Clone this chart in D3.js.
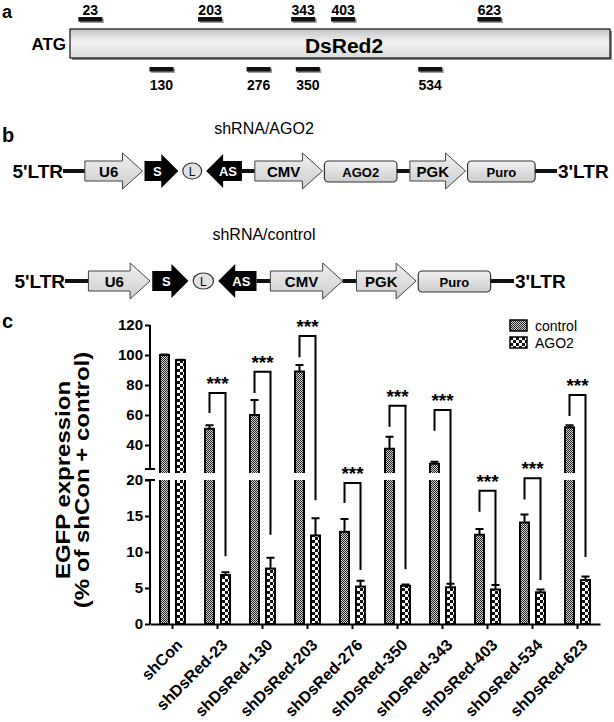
<!DOCTYPE html>
<html>
<head>
<meta charset="utf-8">
<script src="https://d3js.org/d3.v7.min.js"></script>
<style>
  body { margin: 0; background: #fff; }
  svg { display: block; font-family: "Liberation Sans", Arial, sans-serif; }
</style>
</head>
<body>
<svg></svg>
<script>
// ---- panel a: shRNA target sites on DsRed2 (nt position)
const sitesTop = [23, 203, 343, 403, 623];
const sitesBottom = [130, 276, 350, 534];

// ---- panel b: vector constructs ("==" long linker, "-" short linker)
const constructAGO2 = ["5'LTR", "==", "U6", "S", "L", "AS", "-", "CMV", "AGO2", "-", "PGK", "Puro", "==", "3'LTR"];
const constructControl = ["5'LTR", "==", "U6", "S", "L", "AS", "-", "CMV", "-", "PGK", "Puro", "==", "3'LTR"];

// ---- panel c: EGFP expression (% of shCon + control)
const groups = ["shCon", "shDsRed-23", "shDsRed-130", "shDsRed-203", "shDsRed-276",
  "shDsRed-350", "shDsRed-343", "shDsRed-403", "shDsRed-534", "shDsRed-623"];
const series = ["control", "AGO2"];
const controlMean = [100, 50.8, 60, 89, 12.8, 37.5, 27.5, 12.4, 14.1, 51.8];
const controlErr = [0.3, 2.4, 10, 4.3, 1.8, 8, 1.4, 0.8, 1.1, 1.3];
const ago2Mean = [96.6, 6.8, 7.7, 12.3, 5.2, 5.3, 5.1, 4.8, 4.4, 6.1];
const ago2Err = [0.3, 0.4, 1.5, 2.4, 0.8, 0.2, 0.5, 0.6, 0.4, 0.5];
// significance brackets (left end, top, right end), in y units
const bracketLeft = [null, 61.3, 74.7, 98.5, 16.8, 52.2, 49.5, 15.6, 17.3, 59.3];
const bracketTop = [null, 74.7, 88.9, 112.7, 19.6, 66.2, 63.3, 18.5, 20.6, 73.3];
const bracketRight = [null, 9.4, 12.4, 17.2, 7.5, 7.6, 5.7, 5.4, 6.1, 9.3];
const yTicksLow = [0, 5, 10, 15, 20];
const yTicksHigh = [40, 60, 80, 100, 120];

const W = 614, H = 722;
const svg = d3.select("svg").attr("width", W).attr("height", H);
const defs = svg.append("defs");

// fill patterns
const pc = defs.append("pattern").attr("id", "patControl")
  .attr("patternUnits", "userSpaceOnUse").attr("width", 2).attr("height", 2);
pc.append("rect").attr("width", 2).attr("height", 2).attr("fill", "#d4d4d4");
pc.append("rect").attr("width", 1).attr("height", 1).attr("fill", "#222");
pc.append("rect").attr("x", 1).attr("y", 1).attr("width", 1).attr("height", 1).attr("fill", "#222");

const pa = defs.append("pattern").attr("id", "patAGO2")
  .attr("patternUnits", "userSpaceOnUse").attr("width", 6).attr("height", 6);
pa.append("rect").attr("width", 6).attr("height", 6).attr("fill", "#fff");
pa.append("rect").attr("width", 3).attr("height", 3).attr("fill", "#111");
pa.append("rect").attr("x", 3).attr("y", 3).attr("width", 3).attr("height", 3).attr("fill", "#111");

const gb = defs.append("linearGradient").attr("id", "gradBox")
  .attr("x1", 0).attr("y1", 0).attr("x2", 0).attr("y2", 1);
gb.append("stop").attr("offset", "0%").attr("stop-color", "#c4c4c4");
gb.append("stop").attr("offset", "45%").attr("stop-color", "#f2f2f2");
gb.append("stop").attr("offset", "100%").attr("stop-color", "#dadada");

const gp = defs.append("linearGradient").attr("id", "gradPart")
  .attr("x1", 0).attr("y1", 0).attr("x2", 0).attr("y2", 1);
gp.append("stop").attr("offset", "0%").attr("stop-color", "#f0f0f0");
gp.append("stop").attr("offset", "100%").attr("stop-color", "#cdcdcd");

// panel letters
[["a", 18, 18], ["b", 142, 20], ["c", 328, 20]].forEach(([t, yy, fs]) => {
  svg.append("text").attr("x", 2).attr("y", yy)
    .attr("font-size", fs).attr("font-weight", "bold").text(t);
});

// ================= panel a =================
const pA = svg.append("g");
const siteX = d3.scaleLinear().domain([0, 678]).range([75, 526]);

pA.append("rect").attr("x", 72).attr("y", 31).attr("width", 540).attr("height", 29).attr("fill", "#8a8a8a");
pA.append("rect").attr("x", 70).attr("y", 29).attr("width", 540).attr("height", 29)
  .attr("fill", "url(#gradBox)").attr("stroke", "#111").attr("stroke-width", 1.2);
pA.append("text").attr("x", 344).attr("y", 53).attr("text-anchor", "middle")
  .attr("font-size", 21).attr("font-weight", "bold").text("DsRed2");
pA.append("text").attr("x", 66).attr("y", 50).attr("text-anchor", "end")
  .attr("font-size", 17).attr("font-weight", "bold").text("ATG");

function drawSites(list, markY, labelY) {
  const g = pA.append("g").selectAll("g").data(list).join("g");
  g.append("rect").attr("x", d => siteX(d) - 10.5).attr("y", markY + 1.5)
    .attr("width", 24).attr("height", 4.5).attr("fill", "#9a9a9a");
  g.append("rect").attr("x", d => siteX(d) - 12).attr("y", markY)
    .attr("width", 24).attr("height", 4.5).attr("fill", "#111");
  g.append("text").attr("x", d => siteX(d)).attr("y", labelY)
    .attr("text-anchor", "middle").attr("font-size", 14).attr("font-weight", "bold")
    .text(d => d);
}
drawSites(sitesTop, 17, 14.5);
drawSites(sitesBottom, 67, 90);

// ================= panel b =================
const partKind = {
  "5'LTR": "ltr", "3'LTR": "ltr", "==": "line", "-": "line",
  "U6": "promoter", "CMV": "promoter", "PGK": "promoter",
  "S": "sense", "AS": "antisense", "L": "loop", "AGO2": "gene", "Puro": "gene"
};
const partWidth = { "==": 22, "-": 13, "U6": 58, "CMV": 68, "PGK": 56, "S": 34, "AS": 36, "L": 20, "AGO2": 73, "Puro": 68 };
const partGap = { line: 0, promoter: 2, sense: 2, antisense: 0, loop: 4, gene: 2 };

function drawConstruct(parts, cy, span, title, titleY) {
  const g = svg.append("g");
  g.append("text").attr("x", 264).attr("y", titleY).attr("text-anchor", "middle")
    .attr("font-size", 16).text(title);

  // lay parts out in natural units, then fit to the row span
  const inner = parts.slice(1, -1);
  let u = 0;
  const laid = inner.map((p, i) => {
    const k = partKind[p];
    const prev = i > 0 ? partKind[inner[i - 1]] : "line";
    if (k !== "line" && prev !== "line") u += Math.max(partGap[k], partGap[prev]);
    const d = { p, k, u0: u, u1: u + partWidth[p] };
    u = d.u1;
    return d;
  });
  const sx = d3.scaleLinear().domain([0, u]).range(span);

  g.append("text").attr("x", span[0]).attr("y", cy + 7).attr("text-anchor", "end")
    .attr("font-size", 19).attr("font-weight", "bold").text(parts[0]);
  g.append("text").attr("x", span[1] + 1).attr("y", cy + 7)
    .attr("font-size", 19).attr("font-weight", "bold").text(parts[parts.length - 1]);

  laid.forEach(d => {
    const x0 = sx(d.u0), x1 = sx(d.u1);
    if (d.k === "line") {
      g.append("rect").attr("x", x0).attr("y", cy - 2).attr("width", x1 - x0).attr("height", 4).attr("fill", "#111");
    } else if (d.k === "promoter") {
      const h = 20;
      g.append("path").attr("d", `M${x0},${cy - 10}H${x1 - h}V${cy - 18}L${x1},${cy}L${x1 - h},${cy + 18}V${cy + 10}H${x0}Z`)
        .attr("fill", "url(#gradPart)").attr("stroke", "#444").attr("stroke-width", 1);
      g.append("text").attr("x", (x0 + x1) / 2 - 5).attr("y", cy + 5.5).attr("text-anchor", "middle")
        .attr("font-size", 15).attr("font-weight", "bold").text(d.p);
    } else if (d.k === "sense") {
      const h = 17;
      g.append("path").attr("d", `M${x0},${cy - 10}H${x1 - h}V${cy - 17}L${x1},${cy}L${x1 - h},${cy + 17}V${cy + 10}H${x0}Z`)
        .attr("fill", "#000");
      g.append("text").attr("x", (x0 + x1) / 2 - 4).attr("y", cy + 5).attr("text-anchor", "middle")
        .attr("fill", "#fff").attr("font-size", 13).attr("font-weight", "bold").text(d.p);
    } else if (d.k === "antisense") {
      const h = 17;
      g.append("path").attr("d", `M${x1},${cy - 10}H${x0 + h}V${cy - 17}L${x0},${cy}L${x0 + h},${cy + 17}V${cy + 10}H${x1}Z`)
        .attr("fill", "#000");
      g.append("text").attr("x", (x0 + x1) / 2 + 4).attr("y", cy + 5).attr("text-anchor", "middle")
        .attr("fill", "#fff").attr("font-size", 13).attr("font-weight", "bold").text(d.p);
    } else if (d.k === "loop") {
      g.append("ellipse").attr("cx", (x0 + x1) / 2).attr("cy", cy).attr("rx", (x1 - x0) / 2 - 0.5).attr("ry", 8)
        .attr("fill", "#e2e2e2").attr("stroke", "#333").attr("stroke-width", 1.2);
      g.append("text").attr("x", (x0 + x1) / 2).attr("y", cy + 4.5).attr("text-anchor", "middle")
        .attr("font-size", 12).text(d.p);
    } else if (d.k === "gene") {
      g.append("rect").attr("x", x0).attr("y", cy - 10).attr("width", x1 - x0).attr("height", 21).attr("rx", 4)
        .attr("fill", "url(#gradPart)").attr("stroke", "#333").attr("stroke-width", 1.2);
      g.append("text").attr("x", (x0 + x1) / 2).attr("y", cy + 5.5).attr("text-anchor", "middle")
        .attr("font-size", 13).attr("font-weight", "bold").text(d.p);
    }
  });
}
drawConstruct(constructAGO2, 171, [63, 557], "shRNA/AGO2", 134);
drawConstruct(constructControl, 281, [65, 514], "shRNA/control", 240);

// ================= panel c =================
const pC = svg.append("g");
const x = d3.scaleBand().domain(groups).range([150, 600]);
const xs = d3.scaleBand().domain(series).range([9, 36]).paddingInner(0.3125);
const y = d3.scaleLinear().domain([0, 20, 24, 120]).range([624, 480, 469, 325]);
const fills = { control: "url(#patControl)", AGO2: "url(#patAGO2)" };

const rows = groups.flatMap((g, i) => [
  { g, s: "control", v: controlMean[i], e: controlErr[i] },
  { g, s: "AGO2", v: ago2Mean[i], e: ago2Err[i] }
]);
const cx = d => x(d.g) + xs(d.s) + xs.bandwidth() / 2;

// error bars (upper half only)
pC.append("g").selectAll("path").data(rows).join("path")
  .attr("d", d => `M${cx(d)},${y(d.v)}V${y(d.v + d.e)}M${cx(d) - 4},${y(d.v + d.e)}H${cx(d) + 4}`)
  .attr("fill", "none").attr("stroke", "#000").attr("stroke-width", 2);

pC.append("g").selectAll("rect").data(rows).join("rect")
  .attr("x", d => x(d.g) + xs(d.s) + 1)
  .attr("width", xs.bandwidth() - 2)
  .attr("y", d => y(d.v))
  .attr("height", d => y(0) - y(d.v))
  .attr("fill", d => fills[d.s])
  .attr("stroke", "#000").attr("stroke-width", 2);

// axis break gap through the bars
pC.append("rect").attr("x", 152).attr("y", y(24) + 4).attr("width", 450).attr("height", y(20) - y(24) - 4)
  .attr("fill", "#fff");

// significance brackets
const br = groups.map((g, i) => ({ g, l: bracketLeft[i], t: bracketTop[i], r: bracketRight[i] }))
  .filter(d => d.t !== null);
const cxS = (g, s) => x(g) + xs(s) + xs.bandwidth() / 2;
pC.append("g").selectAll("path").data(br).join("path")
  .attr("d", d => `M${cxS(d.g, "control")},${y(d.l)}V${y(d.t)}H${cxS(d.g, "AGO2")}V${y(d.r)}`)
  .attr("fill", "none").attr("stroke", "#000").attr("stroke-width", 2);
pC.append("g").selectAll("text").data(br).join("text")
  .attr("x", d => (cxS(d.g, "control") + cxS(d.g, "AGO2")) / 2)
  .attr("y", d => y(d.t) - 3)
  .attr("text-anchor", "middle").attr("font-size", 19).attr("font-weight", "bold")
  .text("***");

// y axis (broken)
function yAxisPart(ticks, lo, hi) {
  const a = pC.append("g").attr("transform", "translate(150,0)")
    .call(d3.axisLeft(y).tickValues(ticks).tickSize(5).tickPadding(2));
  a.select(".domain").remove();
  a.selectAll("line").attr("stroke-width", 2);
  a.selectAll("text").attr("font-size", 15).attr("font-weight", "bold")
    .attr("font-family", "Liberation Sans, Arial, sans-serif").attr("fill", "#000");
  a.append("path").attr("d", `M0,${y(lo)}V${y(hi)}M-5,${y(lo)}H5`)
    .attr("stroke", "#000").attr("stroke-width", 2).attr("fill", "none");
}
yAxisPart(yTicksLow, 20, 0);
yAxisPart(yTicksHigh, 24, 120);

// x axis
const xa = pC.append("g").attr("transform", `translate(0,${y(0)})`)
  .call(d3.axisBottom(x).tickSize(5).tickSizeOuter(0));
xa.select(".domain").attr("stroke-width", 2);
xa.selectAll("line").attr("stroke-width", 2);
xa.selectAll("text")
  .attr("y", null).attr("dy", null)
  .attr("text-anchor", "end")
  .attr("transform", "translate(11,22) rotate(-45)")
  .attr("font-size", 16).attr("font-weight", "bold")
  .attr("font-family", "Liberation Sans, Arial, sans-serif").attr("fill", "#000");

// y title
const yt = pC.append("g").attr("transform", "translate(70,480) rotate(-90) scale(1.2,1)");
yt.append("text").attr("text-anchor", "middle").attr("font-size", 20).attr("font-weight", "bold")
  .text("EGFP expression");
yt.append("text").attr("text-anchor", "middle").attr("y", 18.6).attr("font-size", 20).attr("font-weight", "bold")
  .text("(% of shCon + control)");

// legend
const lg = pC.append("g").selectAll("g").data(series).join("g")
  .attr("transform", (d, i) => `translate(510,${320 + i * 17})`);
lg.append("rect").attr("width", 17).attr("height", 11)
  .attr("fill", d => fills[d]).attr("stroke", "#000").attr("stroke-width", 1.5);
lg.append("text").attr("x", 25).attr("y", 11).attr("font-size", 14).text(d => d);
</script>
</body>
</html>
